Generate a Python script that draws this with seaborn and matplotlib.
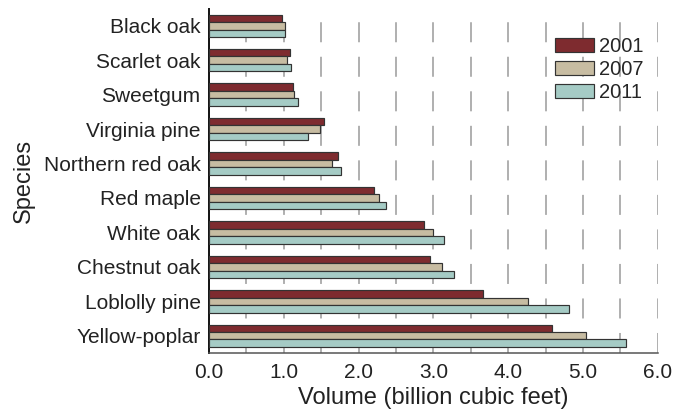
import matplotlib
matplotlib.use("Agg")
import matplotlib.pyplot as plt
from matplotlib.ticker import MultipleLocator, FormatStrFormatter
import seaborn as sns
import pandas as pd

species = ["Black oak", "Scarlet oak", "Sweetgum", "Virginia pine",
           "Northern red oak", "Red maple", "White oak", "Chestnut oak",
           "Loblolly pine", "Yellow-poplar"]
years = ["2001", "2007", "2011"]
vol_2001 = [0.97, 1.08, 1.12, 1.54, 1.73, 2.20, 2.87, 2.95, 3.66, 4.58]
vol_2007 = [1.02, 1.04, 1.14, 1.49, 1.65, 2.27, 3.00, 3.11, 4.27, 5.04]
vol_2011 = [1.02, 1.10, 1.19, 1.32, 1.76, 2.36, 3.14, 3.28, 4.81, 5.57]
colors = ["#8c1d22", "#cdbf9c", "#9fd1ca"]

df = pd.DataFrame({
    "Species": species * 3,
    "Volume": vol_2001 + vol_2007 + vol_2011,
    "Year": [y for y in years for _ in species],
})

sns.set_theme(style="white")
plt.rcParams["font.family"] = ["Liberation Sans", "DejaVu Sans"]

fig = plt.figure(figsize=(6.74, 4.17), dpi=100)
ax = fig.add_axes([0.310, 0.1535, 0.666, 0.826])

sns.barplot(data=df, y="Species", x="Volume", hue="Year", orient="h",
            order=species, hue_order=years, palette=colors,
            width=0.65, errorbar=None, edgecolor="#333333", linewidth=0.85,
            ax=ax, zorder=3)

ax.set_xlim(0, 6.0)
ax.set_ylim(len(species) - 0.5, -0.5)
ax.xaxis.set_major_locator(MultipleLocator(1.0))
ax.xaxis.set_minor_locator(MultipleLocator(0.5))
ax.xaxis.set_major_formatter(FormatStrFormatter("%.1f"))

# dashed vertical guides at every half unit
for xv in [0.5 * i for i in range(1, 13)]:
    ax.axvline(xv, color="#9a9a9a", linewidth=1.1, zorder=1,
               linestyle=(0, (13.1, 9.5)))

ax.tick_params(axis="x", which="both", direction="inout", length=8,
               width=1.0, color="#555555", labelsize=15, pad=3,
               labelcolor="#222222")
ax.tick_params(axis="y", length=0, labelsize=15, pad=6,
               labelcolor="#222222")

for side in ["top", "right"]:
    ax.spines[side].set_visible(False)
ax.spines["left"].set_color("#111111")
ax.spines["left"].set_linewidth(1.4)
ax.spines["bottom"].set_color("#555555")
ax.spines["bottom"].set_linewidth(1.1)

ax.set_xlabel("Volume (billion cubic feet)", fontsize=17, color="#222222",
              labelpad=4)
ax.set_ylabel("Species", fontsize=17, color="#222222", labelpad=6)

handles, labels = ax.get_legend_handles_labels()
ax.legend(handles, labels, loc="upper left",
          bbox_to_anchor=(555 / 674, 1 - 37 / 417),
          bbox_transform=fig.transFigure, frameon=False, fontsize=14.5,
          handlelength=1.95, handleheight=0.74, handletextpad=0.25,
          labelspacing=0.2, borderpad=0, borderaxespad=0)

fig.savefig("out.png", dpi=100)
